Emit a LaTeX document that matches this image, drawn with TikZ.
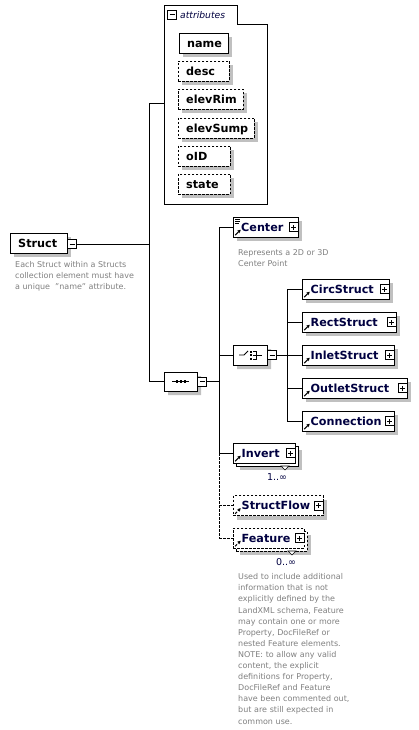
\documentclass[tikz,border=0pt]{standalone}
\usepackage{fontspec}
\setmainfont{DejaVu Sans}
\usetikzlibrary{shapes.misc,shadows,calc,arrows.meta}
\definecolor{shdc}{RGB}{192,192,192}
\definecolor{descc}{RGB}{128,128,128}
\definecolor{navyc}{RGB}{0,0,64}
\tikzset{
 shd/.style={drop shadow={shadow xshift=4pt,shadow yshift=-4pt,fill=shdc,opacity=1}},
 ebox/.style={draw,fill=white,line width=0.8pt,minimum height=20pt,inner sep=0pt,anchor=west},
 opt/.style={dash pattern=on 2.5pt off 1.5pt},
 lab/.style={font=\fontsize{11.2}{12}\selectfont\bfseries,text height=8.2pt,text depth=0pt,inner sep=0pt,anchor=west,text=navyc},
 albl/.style={lab,text=black},
 dtext/.style={font=\fontsize{8}{11.1}\selectfont,text=descc,align=left,inner sep=0pt,anchor=north west},
 mult/.style={font=\fontsize{9.5}{10}\selectfont,text=navyc,inner sep=0pt},
 refar/.style={path picture={\draw[line width=1pt,-{Stealth[length=3.4pt,width=3.6pt]}] ([xshift=1.8pt,yshift=1.8pt]path picture bounding box.south west) -- ++(5.5pt,5.5pt);}},
 pm/.style={draw,fill=white,minimum size=9pt,inner sep=0pt,line width=0.7pt},
 minusbox/.style={pm,path picture={\draw[line width=0.7pt] ([xshift=2pt]path picture bounding box.west)--([xshift=-2pt]path picture bounding box.east);}},
 plusbox/.style={pm,path picture={\draw[line width=0.7pt] ([xshift=2pt]path picture bounding box.west)--([xshift=-2pt]path picture bounding box.east); \draw[line width=0.7pt] ([yshift=2pt]path picture bounding box.south)--([yshift=-2pt]path picture bounding box.north);}},
 comp/.style={chamfered rectangle,chamfered rectangle xsep=5pt,chamfered rectangle ysep=5pt,draw,fill=white,line width=0.8pt,minimum width=33pt,minimum height=19pt,inner sep=0pt,shd},
 conn/.style={line width=0.8pt},
 dconn/.style={line width=0.8pt,dash pattern=on 2.5pt off 1.5pt},
}
\begin{document}
\begin{tikzpicture}[x=1pt,y=-1pt]
\fill[white] (0,0) rectangle (418,730);
\useasboundingbox (0,0) rectangle (418,730);

% ---------- attributes group ----------
\draw[line width=0.8pt] (164,5) -- (237,5) -- (237,24) -- (267,24) -- (267,204) -- (164,204) -- cycle;
\coordinate (attrIn) at (164,103);
\node[minusbox] (amin) at (172,14.5) {};
\node[font=\fontsize{9.2}{10}\selectfont\itshape,anchor=west,inner sep=0pt,text=navyc] (attrt) at (180,15) {attributes};

\node[ebox,shd,minimum width=49pt] (aname) at (179,43) {};
\node[albl] (anamel) at (187,43) {name};
\node[ebox,shd,opt,minimum width=51pt] (adesc) at (178,71) {};
\node[albl] (adescl) at (186,71) {desc};
\node[ebox,shd,opt,minimum width=65pt] (arim) at (178,99.5) {};
\node[albl] (ariml) at (186,99.5) {elevRim};
\node[ebox,shd,opt,minimum width=76pt] (asump) at (178,128) {};
\node[albl] (asumpl) at (186,128) {elevSump};
\node[ebox,shd,opt,minimum width=52pt] (aoid) at (178,156) {};
\node[albl] (aoidl) at (186,156) {oID};
\node[ebox,shd,opt,minimum width=52pt] (astate) at (178,184) {};
\node[albl] (astatel) at (186,184) {state};

% ---------- Struct ----------
\node[ebox,shd,minimum width=57pt] (struct) at (10,243) {};
\node[albl] (structl) at (18,243) {Struct};
\node[minusbox] (smin) at (72,244) {};
\node[dtext] (structd) at (15,261.5) {Each Struct within a Structs\\collection element must have\\a unique\ \ "name" attribute.};

% ---------- sequence ----------
\node[comp] (seq) at (180.5,381.5) {};
\draw[line width=0.8pt] (172,381.5) -- (189,381.5);
\foreach \xx in {176,180,184} \fill (\xx,380.3) rectangle ++(2.4,2.4);
\node[minusbox] (seqm) at (202,381.5) {};
\draw[conn] (seq.east) -- (seqm.west);

\coordinate (J1) at (149,0);
\draw[conn] (smin.east) -- (smin.east -| J1);
\draw[conn] (attrIn) -- (attrIn -| J1) -- (seq.west -| J1) -- (seq.west);

% ---------- sequence children ----------
\node[ebox,shd,refar,minimum width=65pt] (center) at (233,227) {};
\node[lab] (centerl) at (241,227) {Center};
\node[plusbox] (centerp) at (293.5,227) {};
\draw[line width=0.6pt] (235,219.3) -- (240,219.3) (235,221.3) -- (240,221.3) (235,223.3) -- (239,223.3);
\node[dtext] (centerd) at (238,249) {Represents a 2D or 3D\\Center Point};

\node[comp,minimum width=34pt,minimum height=20pt] (choice) at (250,355) {};
\draw[line width=0.8pt] (239,355) -- (244,355) -- (248,351);
\foreach \yy in {350.5,354,357.5} \fill (249.5,\yy) rectangle ++(2,2);
\draw[line width=0.8pt] (253,351) -- (256,351) -- (256,359) -- (253,359) (253,355) -- (262,355);
\node[minusbox] (choicem) at (272,355) {};
\draw[conn] (choice.east) -- (choicem.west);

\node[ebox,shd,minimum width=62pt] (invertb) at (236,456) {};
\node[ebox,refar,minimum width=62pt] (invert) at (233,453) {};
\node[lab] (invertl) at (241.5,453) {Invert};
\node[plusbox] (invertp) at (290.5,453) {};
\draw[line width=0.6pt,fill=white] (281,466) -- (289,466) -- (285,470) -- cycle;
\node[mult] (invertm) at (277,477) {1..∞};

\node[ebox,shd,opt,refar,minimum width=90pt] (sflow) at (233,505.5) {};
\node[lab] (sflowl) at (241.5,505.5) {StructFlow};
\node[plusbox] (sflowp) at (318.5,505.5) {};

\node[ebox,shd,opt,minimum width=71pt] (featureb) at (236,541) {};
\node[ebox,opt,refar,minimum width=71pt] (feature) at (233,538) {};
\node[lab] (featurel) at (241.5,538) {Feature};
\node[plusbox] (featurep) at (299.5,538) {};
\draw[line width=0.6pt,fill=white] (288,551) -- (296,551) -- (292,555) -- cycle;
\node[mult] (featurem) at (286,562) {0..∞};
\node[dtext,text width=130pt] (featured) at (238,573.5) {Used to include additional\\information that is not\\explicitly defined by the\\LandXML schema, Feature\\may contain one or more\\Property, DocFileRef or\\nested Feature elements.\\NOTE: to allow any valid\\content, the explicit\\definitions for Property,\\DocFileRef and Feature\\have been commented out,\\but are still expected in\\common use.};

\coordinate (J2) at (219,0);
\draw[conn] (seqm.east) -- (seqm.east -| J2);
\draw[conn] (center.west -| J2) -- (invert.west -| J2);
\draw[dconn] (invert.west -| J2) -- (feature.west -| J2);
\draw[conn] (center.west -| J2) -- (center.west);
\draw[conn] (choice.west -| J2) -- (choice.west);
\draw[conn] (invert.west -| J2) -- (invert.west);
\draw[dconn] (sflow.west -| J2) -- (sflow.west);
\draw[dconn] (feature.west -| J2) -- (feature.west);

% ---------- choice children ----------
\node[ebox,shd,refar,minimum width=87pt] (circ) at (302,289) {};
\node[lab] (circl) at (310.5,289) {CircStruct};
\node[plusbox] (circp) at (384.5,289) {};
\node[ebox,shd,refar,minimum width=94pt] (rect) at (302,322) {};
\node[lab] (rectl) at (310.5,322) {RectStruct};
\node[plusbox] (rectp) at (391.5,322) {};
\node[ebox,shd,refar,minimum width=92pt] (inlet) at (302,355) {};
\node[lab] (inletl) at (310.5,355) {InletStruct};
\node[plusbox] (inletp) at (389.5,355) {};
\node[ebox,shd,refar,minimum width=105pt] (outlet) at (302,388) {};
\node[lab] (outletl) at (310.5,388) {OutletStruct};
\node[plusbox] (outletp) at (402.5,388) {};
\node[ebox,shd,refar,minimum width=92pt] (connx) at (302,421) {};
\node[lab] (connxl) at (310.5,421) {Connection};
\node[plusbox] (connxp) at (389.5,421) {};

\coordinate (J3) at (287,0);
\draw[conn] (choicem.east) -- (choicem.east -| J3);
\draw[conn] (circ.west -| J3) -- (connx.west -| J3);
\foreach \nn in {circ,rect,inlet,outlet,connx} \draw[conn] (\nn.west -| J3) -- (\nn.west);
\end{tikzpicture}
\end{document}
